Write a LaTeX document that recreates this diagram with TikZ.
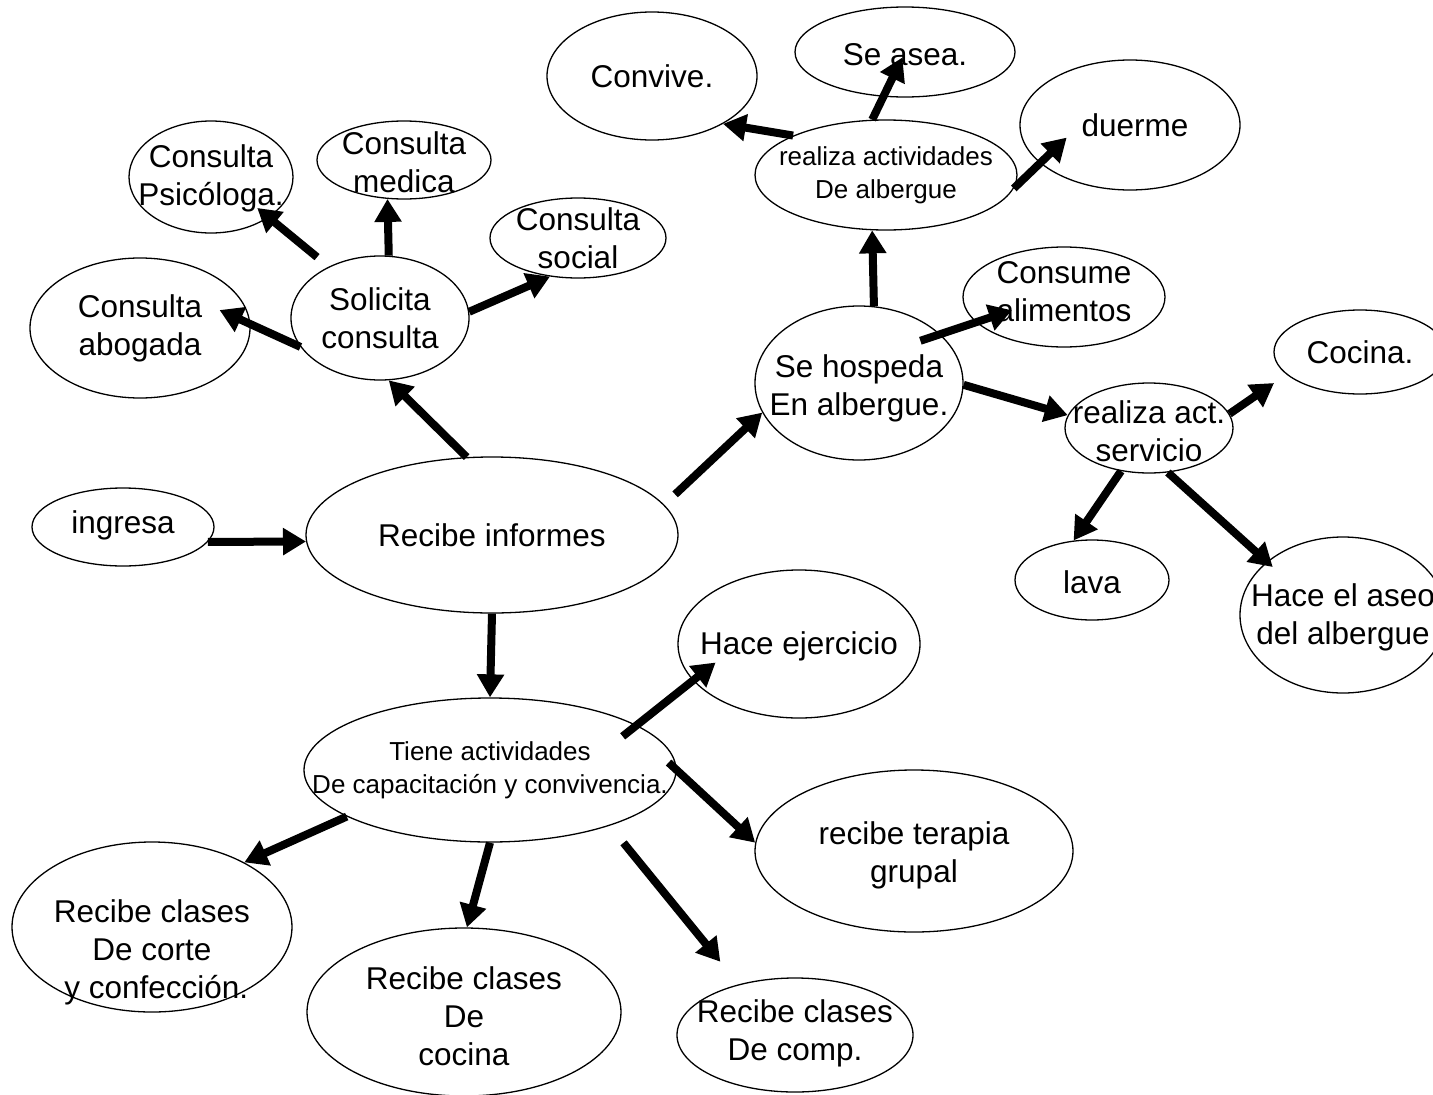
\documentclass[tikz,border=0pt]{standalone}
\usepackage{fontspec}
\setmainfont{Liberation Sans}
\usetikzlibrary{arrows.meta,shapes.geometric}
\tikzset{
  el/.style 2 args={ellipse, draw, line width=1.3pt, inner sep=0pt, minimum width=#1pt, minimum height=#2pt},
  tx/.style={align=center, inner sep=0pt, font=\fontsize{31.5}{38}\selectfont},
  txs/.style={align=center, inner sep=0pt, font=\fontsize{26}{33}\selectfont},
  ar/.style={line width=8pt, -{Triangle[length=23pt,width=26pt]}}
}
\begin{document}
\begin{tikzpicture}[x=1pt,y=-1pt]
\useasboundingbox (0,0) rectangle (1433,1095);
% ellipses
\node[el={182}{78}]   (ing)   at (123,527)  {};
\node[el={372}{156}]  (rec)   at (492,535)  {};
\node[el={178}{124}]  (sol)   at (380,318)  {};
\node[el={220}{140}]  (abo)   at (140,328)  {};
\node[el={164}{112}]  (psi)   at (211,177)  {};
\node[el={174}{78}]   (med)   at (404,160)  {};
\node[el={176}{80}]   (soc)   at (578,238)  {};
\node[el={208}{154}]  (hos)   at (859,383)  {};
\node[el={262}{110}]  (act)   at (886,175)  {};
\node[el={210}{128}]  (conv)  at (652,76)   {};
\node[el={220}{90}]   (asea)  at (905,52)   {};
\node[el={220}{130}]  (duer)  at (1130,125) {};
\node[el={202}{100}]  (cons)  at (1064,297) {};
\node[el={168}{90}]   (serv)  at (1149,428) {};
\node[el={172}{84}]   (coc)   at (1360,352) {};
\node[el={154}{80}]   (lava)  at (1092,580) {};
\node[el={206}{156}]  (aseo)  at (1343,615) {};
\node[el={242}{148}]  (ejer)  at (799,644)  {};
\node[el={372}{144}]  (tiene) at (490,770)  {};
\node[el={318}{162}]  (ter)   at (914,851)  {};
\node[el={280}{170}]  (corte) at (152,927)  {};
\node[el={314}{168}]  (cls)   at (464,1012) {};
\node[el={236}{114}]  (comp)  at (795,1035) {};
% texts
\node[tx] (ing-t)   at ([yshift=2pt]ing.center) {ingresa};
\node[tx] (rec-t)   at (rec.center) {Recibe informes};
\node[tx] (sol-t)   at (sol.center) {Solicita\\consulta};
\node[tx] (abo-t)   at (abo.center) {Consulta\\abogada};
\node[tx] (psi-t)   at ([yshift=-1pt]psi.center) {Consulta\\Psicóloga.};
\node[tx] (med-t)   at ([yshift=-2pt]med.center) {Consulta\\medica};
\node[tx] (soc-t)   at (soc.center) {Consulta\\social};
\node[tx] (hos-t)   at ([yshift=-5pt]hos.center) {Se hospeda\\En albergue.};
\node[txs] (act-t)  at (act.center) {realiza actividades\\De albergue};
\node[tx] (conv-t)  at (conv.center) {Convive.};
\node[tx] (asea-t)  at ([yshift=-3pt]asea.center) {Se asea.};
\node[tx] (duer-t)  at ([xshift=5pt]duer.center) {duerme};
\node[tx] (cons-t)  at ([yshift=5pt]cons.center) {Consume\\alimentos};
\node[tx] (serv-t)  at ([yshift=-3pt]serv.center) {realiza act.\\servicio};
\node[tx] (coc-t)   at (coc.center) {Cocina.};
\node[tx] (lava-t)  at ([yshift=-2pt]lava.center) {lava};
\node[tx] (aseo-t)  at ([yshift=-2pt]aseo.center) {Hace el aseo\\del albergue};
\node[tx] (ejer-t)  at ([yshift=-2pt]ejer.center) {Hace ejercicio};
\node[txs] (tiene-t) at (tiene.center) {Tiene actividades\\De capacitación y convivencia.};
\node[tx] (ter-t)   at ([yshift=-4pt]ter.center) {recibe terapia\\grupal};
\node[tx] (corte-t) at ([yshift=-25pt]corte.center) {Recibe clases\\De corte\\\ y confección.};
\node[tx] (cls-t)   at ([yshift=-4pt]cls.center) {Recibe clases\\De\\cocina};
\node[tx] (comp-t)  at ([yshift=2pt]comp.center) {Recibe clases\\De comp.};
% arrows
\draw[ar] (ing.-10) -- (rec.182);
\draw[ar] (rec.108) -- (sol.-82);
\draw[ar, shorten <=15pt] (rec.10) -- (hos.197);
\draw[ar] (rec.-90.5) -- (tiene.90);
\draw[ar, shorten >=-34pt] (sol.200) -- (abo.2);
\draw[ar, shorten <=15pt, shorten >=-15pt] (sol.135) -- (psi.-35);
\draw[ar] (sol.82.5) -- (med.-113);
\draw[ar] (sol.4) -- (soc.234);
\draw[ar] (hos.79) -- (act.-104);
\draw[ar] (act.157) -- (conv.-34);
\draw[ar, shorten >=6pt] (act.104) -- (asea.center);
\draw[ar, shorten >=-37pt] (act.-6) -- (duer.203);
\draw[ar, shorten <=-21pt, shorten >=-38pt] (hos.31.5) -- (cons.196);
\draw[ar] (hos.-1) -- (serv.171);
\draw[ar, shorten >=15pt] (serv.10) -- (coc.197);
\draw[ar] (serv.237) -- (lava.115);
\draw[ar, shorten >=-8pt] (serv.-67) -- (aseo.145);
\draw[ar, shorten <=-18pt, shorten >=-29pt] (tiene.17) -- (ejer.199);
\draw[ar, shorten <=-11pt] (tiene.0) -- (ter.177);
\draw[ar] (tiene.198) -- (corte.35);
\draw[ar] (tiene.-90) -- (cls.88);
\draw[ar, shorten <=22pt, shorten >=29pt] (tiene.-25) -- (comp.138);
\end{tikzpicture}
\end{document}
